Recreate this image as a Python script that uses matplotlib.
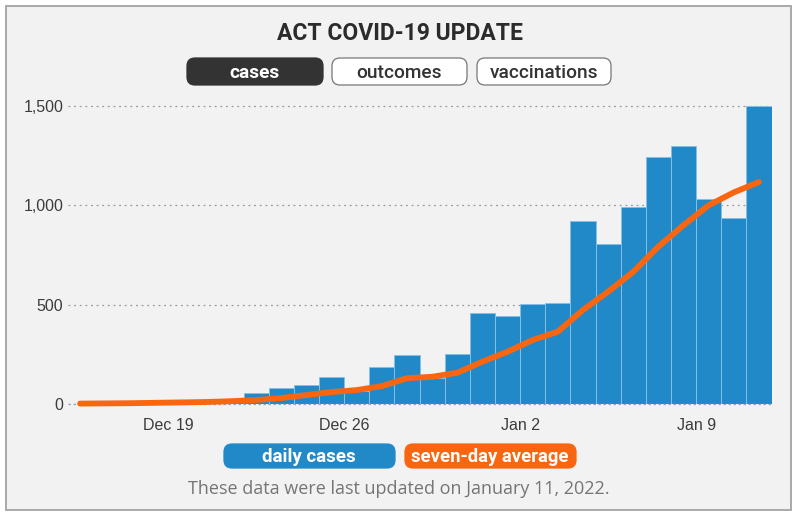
import matplotlib
matplotlib.use('Agg')
import matplotlib.pyplot as plt
import matplotlib.dates as mdates
from matplotlib.patches import FancyBboxPatch, Rectangle
import pandas as pd

# values
dates = pd.date_range('2021-12-15', '2022-01-11')
daily_cases = [2, 3, 4, 5, 8, 10, 16, 54, 80, 96, 137, 65, 186, 246, 130, 250,
               458, 442, 503, 510, 921, 805, 989, 1241, 1300, 1033, 936, 1501]
seven_day_avg = [2, 3, 4, 6, 8, 10, 14, 20, 30, 45, 60, 70, 90, 130, 137, 157,
                 213, 263, 322, 364, 473, 565, 665, 792, 900, 1000, 1065, 1117]
y_ticks = [0, 500, 1000, 1500]
y_labels = ['0', '500', '1,000', '1,500']
x_ticks = ['2021-12-19', '2021-12-26', '2022-01-02', '2022-01-09']
x_labels = ['Dec 19', 'Dec 26', 'Jan 2', 'Jan 9']
buttons = ['cases', 'outcomes', 'vaccinations']

BLUE = '#2289c9'
ORANGE = '#f9660f'
DARK = '#333333'
W, H = 800, 518

fig = plt.figure(figsize=(W / 100, H / 100), dpi=100, facecolor='white')

# background layer in pixel coordinates for the panel, buttons and legend
bg = fig.add_axes([0, 0, 1, 1])
bg.set_xlim(0, W)
bg.set_ylim(H, 0)
bg.axis('off')
bg.add_patch(Rectangle((6, 6), 785, 504, facecolor='#f2f2f2', edgecolor='#a3a3a3', lw=1.3))


def pill(x0, x1, y0, y1, face, edge):
    bg.add_patch(FancyBboxPatch((x0 + 6, y0 + 6), x1 - x0 - 12, y1 - y0 - 12,
                                boxstyle='round,pad=6,rounding_size=8',
                                facecolor=face, edgecolor=edge, lw=0.9))


bg.text(400, 33.5, 'ACT COVID-19 UPDATE', ha='center', va='center', color='#2b2b2b',
        family='Roboto', weight='bold', fontsize=16.5)

button_x = [(187, 323), (332, 467), (477, 611)]
for name, (x0, x1) in zip(buttons, button_x):
    active = name == 'cases'
    pill(x0, x1, 58, 85, DARK if active else 'white', DARK if active else '#777777')
    bg.text((x0 + x1) / 2, 72.5, name, ha='center', va='center', family='Roboto',
            weight='bold' if active else 'medium', fontsize=13.8,
            color='white' if active else DARK)

pill(224, 395, 444, 468, BLUE, BLUE)
pill(405, 576, 444, 468, ORANGE, ORANGE)
bg.text(309, 457.5, 'daily cases', ha='center', va='center', color='white',
        family='Roboto', weight='bold', fontsize=13.5)
bg.text(490, 457.5, 'seven-day average', ha='center', va='center', color='white',
        family='Roboto', weight='bold', fontsize=13.3)
bg.text(399, 489, 'These data were last updated on January 11, 2022.', ha='center', va='center',
        color='#757575', family='Open Sans', fontsize=13)

# main chart, placed so that 0 sits at y=404 and x runs from 67.5 to 771.5
ax = fig.add_axes([67.5 / W, (H - 404) / H, 704 / W, 304 / H])
ax.patch.set_alpha(0)
x = mdates.date2num(dates)
ax.bar(x, daily_cases, width=1.0, align='edge', color=BLUE, edgecolor='#85c0e6', lw=0.7, zorder=2)
ax.plot(x + 0.5, seven_day_avg, color=ORANGE, lw=4.2, solid_capstyle='round',
        solid_joinstyle='round', clip_on=False, zorder=3)

ax.set_xlim(x[0], x[-1] + 1)
ax.set_ylim(0, 1530)
for s in ax.spines.values():
    s.set_visible(False)
ax.set_yticks(y_ticks, y_labels)
ax.set_xticks(mdates.date2num(pd.to_datetime(x_ticks)), x_labels)
ax.tick_params(axis='x', length=0, pad=10, labelsize=11.5, labelcolor='#3c3c3c')
ax.tick_params(axis='y', length=0, pad=3, labelsize=11.5, labelcolor='#3c3c3c')
for lab in ax.get_xticklabels() + ax.get_yticklabels():
    lab.set_family('Liberation Sans')
ax.grid(axis='y', color='#9a9a9a', lw=0.9, ls=(0, (1.5, 3)), zorder=1)
ax.axhline(0, color='#8aa9bf', lw=0.9, ls=(0, (2, 2)), zorder=2.5, clip_on=False)

fig.savefig('out.png', dpi=100)
